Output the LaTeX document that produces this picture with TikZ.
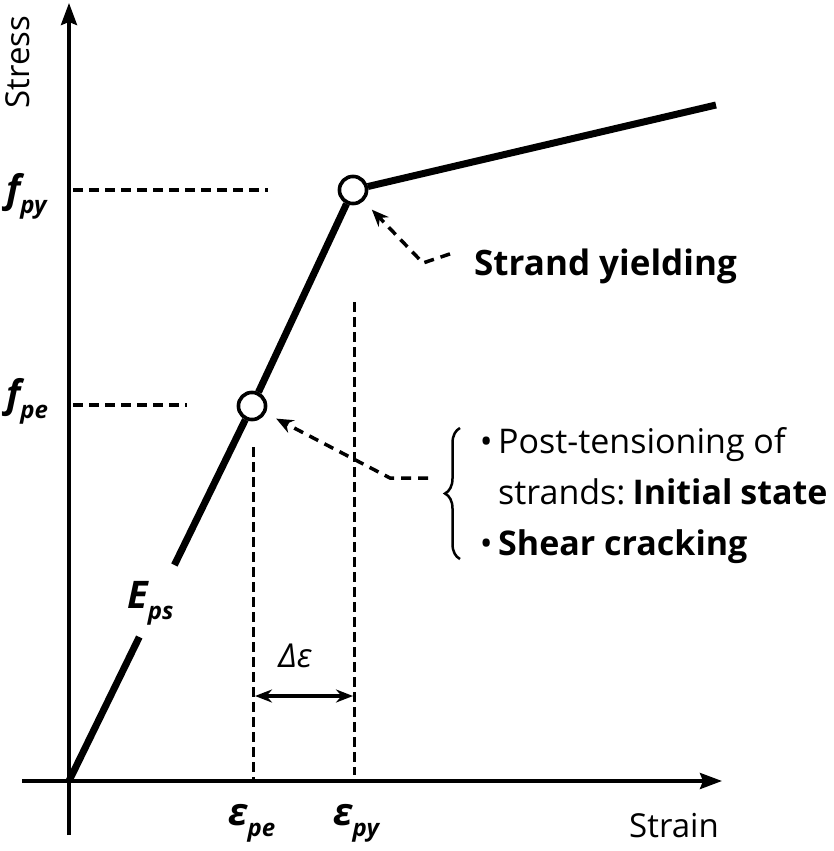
\documentclass[tikz,border=0pt]{standalone}
\usepackage{fontspec}
\setmainfont{Open Sans}
\usetikzlibrary{arrows.meta,decorations.pathreplacing,calc}
\newcommand{\symlbl}[2]{{\fontsize{38}{38}\selectfont\bfseries\itshape #1}\raisebox{-11pt}{\fontsize{24}{24}\selectfont\bfseries\itshape #2}}
\begin{document}
\begin{tikzpicture}[x=1pt,y=-1pt,
  axis/.style={line width=3.5pt,-{Stealth[length=22pt,width=16pt,inset=3pt]}},
  curve/.style={line width=7pt},
  ptc/.style={circle,draw,line width=3.5pt,fill=white,minimum size=27pt,inner sep=0pt},
  hdash/.style={line width=3.5pt,dash pattern=on 10pt off 6pt},
  vdash/.style={line width=3pt,dash pattern=on 10pt off 5pt},
  dasharrow/.style={line width=3.5pt,dash pattern=on 10pt off 7pt,-{Stealth[length=17pt,width=14pt]},shorten >=12pt},
  dimarrow/.style={line width=3.5pt,{Stealth[length=17pt,width=13pt]}-{Stealth[length=17pt,width=13pt]}},
  bracestyle/.style={line width=2.5pt,decorate,decoration={brace,amplitude=15pt}},
  axlbl/.style={font=\fontsize{33}{33}\selectfont}
]
\useasboundingbox (0,0) rectangle (833,851);
% axes
\coordinate (O) at (69,781);
\coordinate (ybot) at (69,835);
\coordinate (ytop) at (69,3);
\coordinate (xleft) at (22,781);
\coordinate (xright) at (722,781);
\draw[axis] (ybot) -- (ytop);
\draw[axis] (xleft) -- (xright);
\node[axlbl,rotate=90] (stress) at (18,62) {Stress};
\node[axlbl] (strain) at (674,826) {Strain};
% points
\node[ptc] (pe) at (252,406) {};
\node[ptc] (py) at (353,190) {};
\coordinate (cend) at (716,105);
% dashed reference lines
\coordinate (hpy0) at (73,190); \coordinate (hpy1) at (268,190);
\coordinate (hpe0) at (73,405); \coordinate (hpe1) at (187,405);
\draw[hdash] (hpy0) -- (hpy1);
\draw[hdash] (hpe0) -- (hpe1);
\coordinate (vpe0) at (253,447); \coordinate (vpe1) at (253,781);
\coordinate (vpy0) at (354,302); \coordinate (vpy1) at (354,775);
\draw[vdash] (vpe0) -- (vpe1);
\draw[vdash] (vpy0) -- (vpy1);
% curve
\draw[curve] (O) -- ($(O)!0.384!(pe)$);
\draw[curve] ($(O)!0.576!(pe)$) -- (pe);
\draw[curve] (pe) -- (py);
\draw[curve] (py) -- (cend);
\node[ptc] at (pe) {};
\node[ptc] at (py) {};
% labels
\node[anchor=base west,inner sep=0pt] (fpy) at (6,202) {\symlbl{f}{py}};
\node[anchor=base west,inner sep=0pt] (fpe) at (6,407) {\symlbl{f}{pe}};
\node[anchor=base west,inner sep=0pt] (eps) at (127,608) {\symlbl{E}{ps}};
\node[anchor=base west,inner sep=0pt] (epe) at (228,825) {\symlbl{ε}{pe}};
\node[anchor=base west,inner sep=0pt] (epy) at (333,825) {\symlbl{ε}{py}};
% delta epsilon
\coordinate (d0) at (255,696); \coordinate (d1) at (353,696);
\draw[dimarrow] (d0) -- (d1);
\node[font=\fontsize{33}{33}\selectfont\itshape] (de) at (295,656) {Δε};
% strand yielding
\node[anchor=base west,inner sep=0pt,font=\fontsize{35}{35}\selectfont\bfseries] (sy) at (474,275) {Strand yielding};
\draw[dasharrow] (sy.west) ++(-24,-12) -- (423,263) -- (py);
% brace and text
\coordinate (bt) at (460,428);
\coordinate (bb) at (460,559);
\draw[bracestyle] (bb) -- (bt);
\node[anchor=north west,inner sep=0pt,align=left,font=\fontsize{34}{51}\selectfont] (txt) at (498,427)
 {\llap{•\,}Post-tensioning of\\ strands:\hspace{7pt}\textbf{Initial\hspace{8pt}state}\\ \llap{•\,}\textbf{Shear cracking}};
\coordinate (a2) at (428,478);
\draw[dasharrow] (a2) -- (390,478) -- (pe);
\end{tikzpicture}
\end{document}
